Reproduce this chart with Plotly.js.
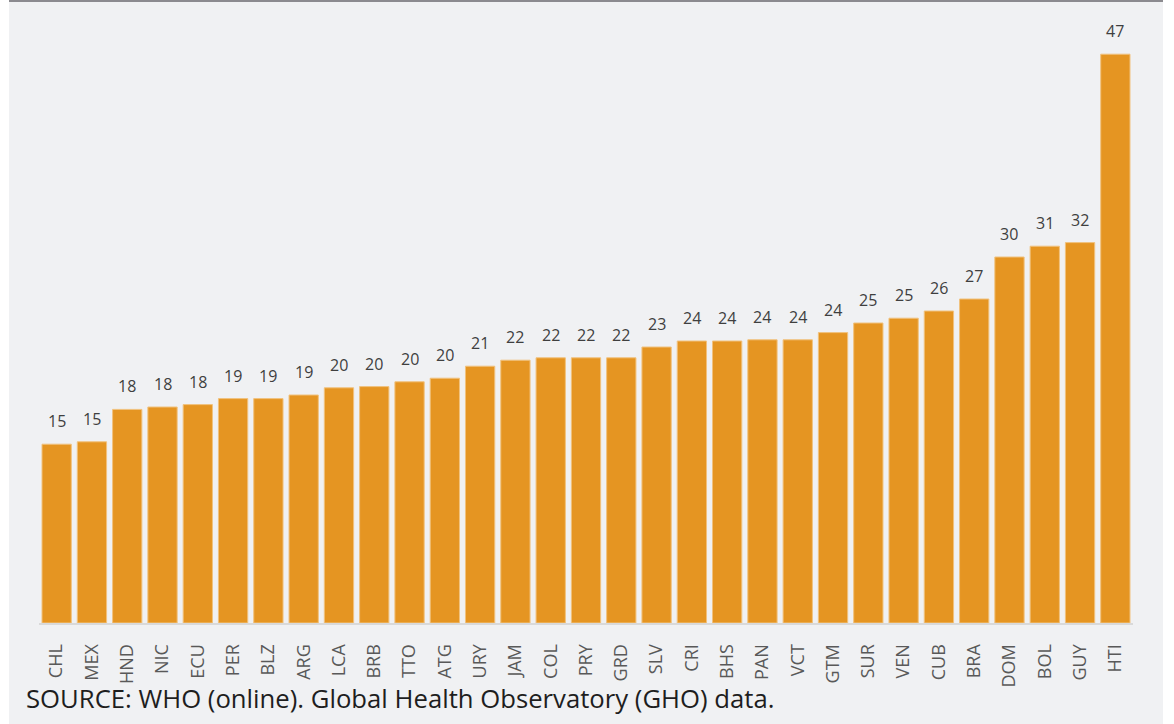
<!DOCTYPE html>
<html>
<head>
<meta charset="utf-8">
<script src="https://cdn.plot.ly/plotly-3.0.1.min.js"></script>
<style>
  html, body { margin: 0; padding: 0; background: #ffffff; }
  #bg { position: absolute; left: 9px; top: 0; width: 1154px; height: 724px; background: #f0f1f3; border-top: 2px solid #8b8a8f; box-sizing: border-box; }
  #chart { position: absolute; left: 0; top: 0; width: 1174px; height: 724px; }
</style>
</head>
<body>
<div id="bg"></div>
<div id="chart"></div>
<script>
// Country codes (x categories)
const countries = ["CHL","MEX","HND","NIC","ECU","PER","BLZ","ARG","LCA","BRB","TTO","ATG","URY","JAM","COL","PRY","GRD","SLV","CRI","BHS","PAN","VCT","GTM","SUR","VEN","CUB","BRA","DOM","BOL","GUY","HTI"];
// Bar values
const values = [14.9,15.1,17.8,18.0,18.2,18.7,18.7,19.0,19.6,19.7,20.1,20.4,21.4,21.9,22.1,22.1,22.1,23.0,23.5,23.5,23.6,23.6,24.2,25.0,25.4,26.0,27.0,30.5,31.4,31.7,47.4];
// Data labels as printed above each bar
const labels = ["15","15","18","18","18","19","19","19","20","20","20","20","21","22","22","22","22","23","24","24","24","24","24","25","25","26","27","30","31","32","47"];
const sourceNote = "SOURCE: WHO (online). Global Health Observatory (GHO) data.";

const trace = {
  type: "bar",
  x: countries,
  y: values,
  marker: { color: "#E59522", line: { color: "#F1C27E", width: 1 } },
  hoverinfo: "x+y"
};

const annotations = countries.map((c, i) => ({
  x: c, y: values[i], xref: "x", yref: "y",
  text: labels[i], showarrow: false,
  yanchor: "bottom", xanchor: "center", yshift: 10,
  font: { family: "Open Sans, sans-serif", size: 16, color: "#3f3f3f" }
}));
annotations.push({
  xref: "paper", yref: "paper", x: -0.0138, y: -0.125,
  xanchor: "left", yanchor: "middle", showarrow: false,
  text: sourceNote,
  font: { family: "Open Sans, sans-serif", size: 25.7, color: "#1e1e1e" }
});

const layout = {
  width: 1174, height: 724,
  margin: { l: 39, r: 41, t: 23, b: 101 },
  paper_bgcolor: "rgba(0,0,0,0)",
  plot_bgcolor: "rgba(0,0,0,0)",
  showlegend: false,
  bargap: 0.17,
  xaxis: {
    type: "category",
    range: [-0.5, 30.5],
    showgrid: false, zeroline: false,
    showline: true, linecolor: "#d9d9d9", linewidth: 2,
    ticks: "", tickangle: -90,
    ticklabelstandoff: 12,
    tickfont: { family: "Open Sans, sans-serif", size: 18, color: "#595959" }
  },
  yaxis: {
    range: [0, 50],
    visible: false, showgrid: false, zeroline: false
  },
  annotations: annotations
};

Plotly.newPlot("chart", [trace], layout, { displayModeBar: false, staticPlot: true });
</script>
</body>
</html>
